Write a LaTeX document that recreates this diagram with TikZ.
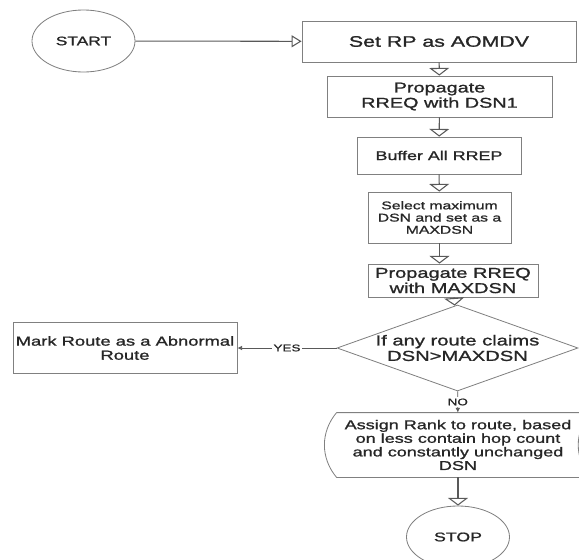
\documentclass[tikz,border=0pt]{standalone}
\usepackage{fontspec}
\setmainfont[FakeStretch=1.4,FakeBold=1.2]{Liberation Sans}
\usetikzlibrary{shapes,arrows.meta}

\newcommand\fsz[2]{\fontsize{#1pt}{#2pt}\selectfont}

\begin{document}
\begin{tikzpicture}[x=0.03cm,y=-0.03cm,line width=0.7pt,
  box/.style={draw=gray,rectangle,align=center,text=black!85,inner sep=1pt},
  term/.style={draw=gray,ellipse,minimum width=3.09cm,minimum height=1.86cm,text=black!85},
  flow/.style={draw=gray!70!black,line width=0.9pt,-{Triangle[open,length=2.3mm,width=6mm]}},
  side/.style={draw=gray!70!black,-{Latex[length=1.4mm,width=1.4mm]}},
  lab/.style={fill=white,inner sep=1pt,text=black!85,font=\fsz{8.2}{9}}]
  \useasboundingbox (0,0) rectangle (579,560);

  \node[term,font=\fsz{10.6}{11}] (start) at (83.5,41) {START};
  \node[box,minimum width=8.22cm,minimum height=1.23cm,font=\fsz{13}{14}] (setrp) at (439,41.5) {Set RP as AOMDV};
  \node[box,minimum width=6.75cm,minimum height=1.23cm,font=\fsz{12.1}{13}] (prop1) at (439.5,96.5) {Propagate\\RREQ with DSN1};
  \node[box,minimum width=4.92cm,minimum height=1.11cm,font=\fsz{10.9}{11.7}] (buffer) at (439,155.5) {Buffer All RREP};
  \node[box,minimum width=4.29cm,minimum height=1.53cm,font=\fsz{9.6}{10.4}] (select) at (439.5,217.5) {Select maximum\\DSN and set as a\\MAXDSN};
  \node[box,minimum width=5.1cm,minimum height=0.99cm,font=\fsz{12.2}{13}] (prop2) at (453,280.5) {Propagate RREQ\\with MAXDSN};
  \node[box,diamond,aspect=2.8,inner sep=0pt,minimum width=7.23cm,minimum height=2.58cm,font=\fsz{12.3}{13.2}] (dia) at (457.5,348) {If any route claims\\DSN>MAXDSN};
  \node[box,minimum width=6.72cm,minimum height=1.53cm,font=\fsz{11.2}{12}] (mark) at (125,348) {Mark Route as a Abnormal\\Route};
  \node[box,draw=none,minimum width=7.26cm,minimum height=1.92cm,font=\fsz{11}{11.6}] (assign) at (458,445) {Assign Rank to route, based\\on less contain hop count\\and constantly unchanged\\DSN};
  \node[term,font=\fsz{10.8}{11}] (stop) at (458,537) {STOP};

  \draw[gray] (assign.north west) -- ([xshift=3.3mm]assign.north east) to[bend right=40] ([xshift=3.3mm]assign.south east)
    -- (assign.south west) to[bend left=40] (assign.north west);

  \draw[draw=gray!70!black,line width=0.9pt,-{Triangle[open,length=3mm,width=3.6mm]}] (start) -- (setrp);
  \draw[flow] (setrp) -- (prop1);
  \draw[flow] (prop1) -- (buffer);
  \draw[flow] (buffer) -- (select);
  \draw[flow] (select.south) -- (select.south |- prop2.north);
  \draw[flow] (prop2) -- (dia);
  \draw[side] (dia) -- node[lab] {YES} (mark);
  \draw[side] (dia) -- node[lab] {NO} (assign);
  \draw[flow] (assign) -- (stop);
\end{tikzpicture}
\end{document}
